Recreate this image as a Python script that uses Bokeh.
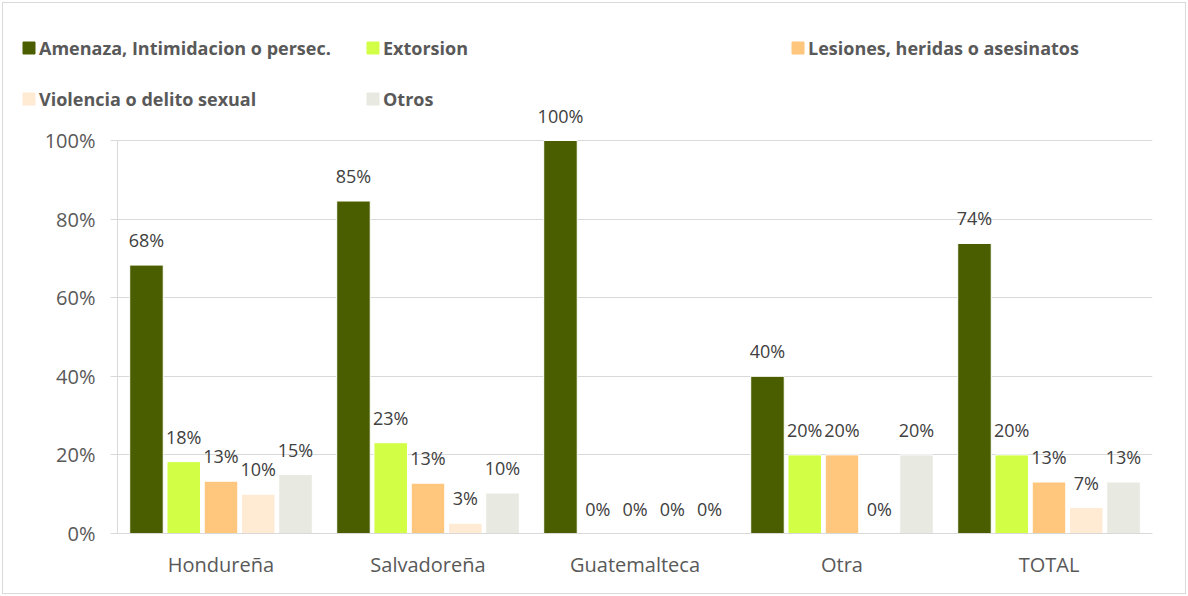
from bokeh.plotting import figure
from bokeh.layouts import column
from bokeh.models import (ColumnDataSource, FactorRange, FixedTicker, NumeralTickFormatter,
                          Legend, LegendItem)
from bokeh.transform import dodge
from bokeh.core.properties import value
from bokeh.embed import file_html
from bokeh.resources import INLINE

categories = ["Hondureña", "Salvadoreña", "Guatemalteca", "Otra", "TOTAL"]
series_names = ["Amenaza, Intimidacion o persec.", "Extorsion", "Lesiones, heridas o asesinatos",
                "Violencia o delito sexual", "Otros"]
amenaza = [0.683, 0.846, 1.00, 0.40, 0.738]
extorsion = [0.183, 0.231, 0.00, 0.20, 0.200]
lesiones = [0.133, 0.128, 0.00, 0.20, 0.131]
violencia = [0.100, 0.026, 0.00, 0.00, 0.066]
otros = [0.150, 0.103, 0.00, 0.20, 0.131]
series_values = [amenaza, extorsion, lesiones, violencia, otros]
colors = ["#4A5E00", "#D2FF46", "#FFC67D", "#FFEAD3", "#E8E9E1"]
y_ticks = [0, 0.2, 0.4, 0.6, 0.8, 1.0]

FONT = "Open Sans"
W = 1182

# ---------- main chart ----------
p = figure(x_range=FactorRange(*categories, range_padding=0), y_range=(0, 425 / 393),
           width=W, height=485, output_backend="svg", toolbar_location=None,
           min_border_left=114, min_border_right=33, min_border_top=0, min_border_bottom=60)
p.outline_line_color = None
p.frame_align = False

src = {"cat": categories}
for i, vals in enumerate(series_values):
    src[f"s{i}"] = vals
    src[f"l{i}"] = [f"{round(v * 100):.0f}%" for v in vals]
source = ColumnDataSource(src)

step = 0.18
for i in range(5):
    off = (i - 2) * step
    p.vbar(x=dodge("cat", off, range=p.x_range), top=f"s{i}", width=0.162, source=source,
           fill_color=colors[i], line_color="white", line_width=1)
    p.text(x=dodge("cat", off, range=p.x_range), y=f"s{i}", text=f"l{i}", source=source,
           text_align="center", text_baseline="bottom", y_offset=-13,
           text_font=value(FONT), text_font_size="18px", text_color="#404040")

p.yaxis.bounds = (0, 1)
p.yaxis.ticker = FixedTicker(ticks=y_ticks)
p.yaxis.formatter = NumeralTickFormatter(format="0%")
p.yaxis.axis_line_color = "#D9D9D9"
p.yaxis.major_tick_line_color = "#D9D9D9"
p.yaxis.major_tick_out = 7
p.yaxis.major_tick_in = 0
p.yaxis.minor_tick_line_color = None
p.yaxis.major_label_standoff = 15
p.yaxis.major_label_text_font = FONT
p.yaxis.major_label_text_font_size = "20px"
p.yaxis.major_label_text_color = "#595959"

p.xaxis.axis_line_color = "#D9D9D9"
p.xaxis.major_tick_line_color = None
p.xaxis.minor_tick_line_color = None
p.xaxis.major_label_standoff = 11
p.xaxis.major_label_text_font = FONT
p.xaxis.major_label_text_font_size = "20px"
p.xaxis.major_label_text_color = "#595959"

p.xgrid.grid_line_color = None
p.ygrid.ticker = FixedTicker(ticks=y_ticks)
p.ygrid.grid_line_color = "#D9D9D9"

# ---------- legend strip ----------
lf = figure(width=W, height=105, output_backend="svg", toolbar_location=None,
            x_axis_type=None, y_axis_type=None, x_range=(0, 1), y_range=(0, 1),
            min_border=0)
lf.outline_line_color = None
lf.grid.grid_line_color = None
lf.frame_align = False
# swatch renderers for the legend (drawn outside the visible range)
dummy = [lf.vbar(x=[0.5], top=[-1], bottom=[-2], width=0.1, fill_color=c, line_color=c)
         for c in colors]

legend_pos = [(18, 48.5), (362, 48.5), (787, 48.5), (18, -2.5), (362, -2.5)]
for i, (lx, ly) in enumerate(legend_pos):
    lg = Legend(items=[LegendItem(label=series_names[i], renderers=[dummy[i]])],
                location=(lx, ly), padding=0, margin=0, spacing=0,
                glyph_width=15, glyph_height=15, label_standoff=3, label_height=15,
                border_line_color=None, background_fill_alpha=0,
                label_text_font=FONT, label_text_font_style="bold",
                label_text_font_size="18px", label_text_color="#595959")
    lf.add_layout(lg, "center")

layout = column(lf, p, spacing=0,
                styles={"border": "1px solid #D9D9D9", "margin": "2px"})

open("out.html", "w").write(file_html(layout, INLINE))
